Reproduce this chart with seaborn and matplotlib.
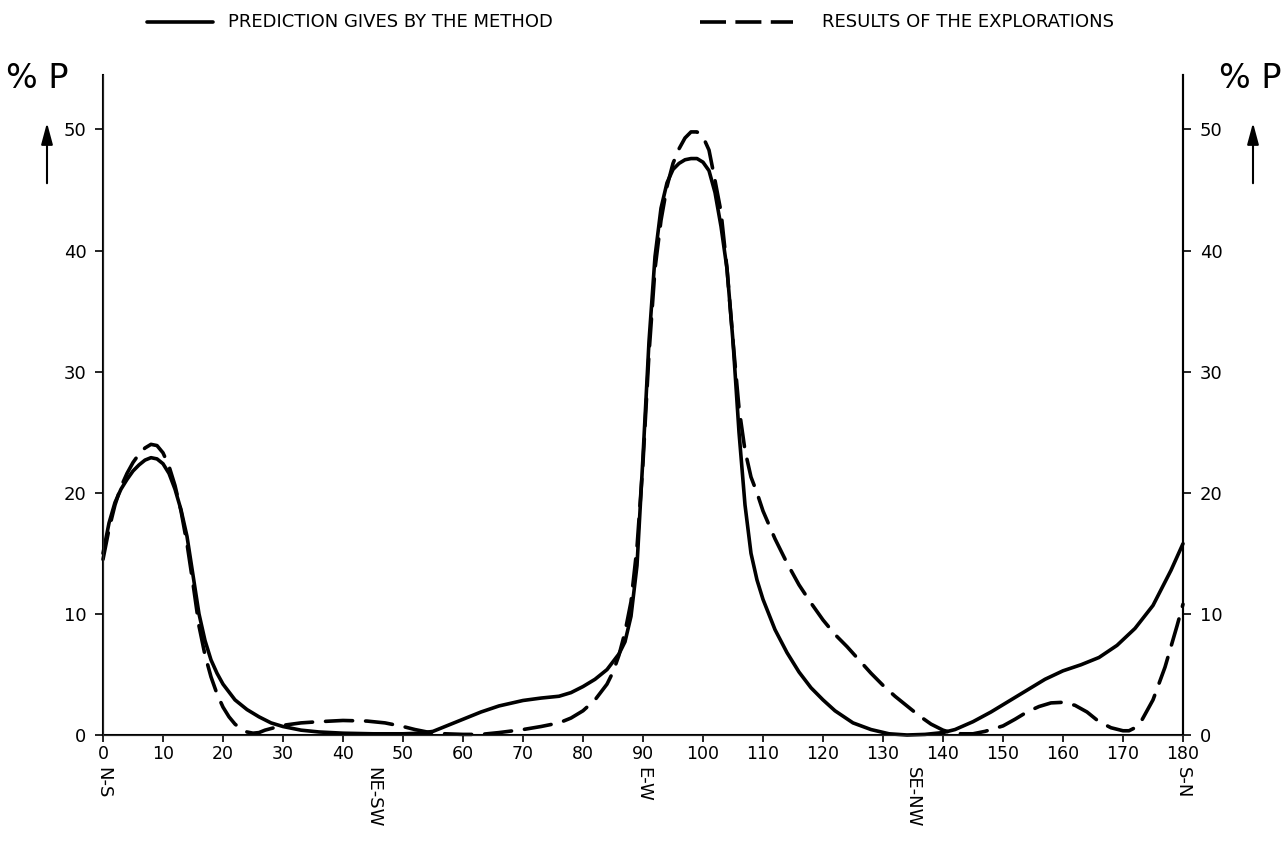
import matplotlib
matplotlib.use('Agg')
import matplotlib.pyplot as plt
import seaborn as sns
from matplotlib.lines import Line2D

# Prediction curve (solid) - angle in degrees vs % P
pred_angle = [0, 1, 2, 3, 4, 5, 6, 7, 8, 9, 10, 11, 12, 13, 14, 15, 16, 17, 18, 19, 20,
              22, 24, 26, 28, 30, 33, 36, 40, 45, 50, 53, 55, 57, 60, 63, 66, 70, 73, 76,
              78, 80, 82, 84, 86, 87, 88, 89, 90, 91, 92, 93, 94, 95, 96, 97, 98, 99, 100,
              101, 102, 103, 104, 105, 106, 107, 108, 109, 110, 112, 114, 116, 118, 120,
              122, 125, 128, 131, 134, 137, 140, 142, 145, 148, 151, 154, 157, 160, 163,
              166, 169, 172, 175, 178, 180]
pred_value = [15.0, 17.5, 19.2, 20.3, 21.1, 21.8, 22.3, 22.7, 22.9, 22.8, 22.4, 21.6, 20.3,
              18.6, 16.4, 13.2, 10.0, 7.8, 6.2, 5.1, 4.2,
              2.9, 2.1, 1.5, 1.0, 0.7, 0.4, 0.25, 0.15, 0.1, 0.1, 0.15, 0.3, 0.7, 1.3, 1.9,
              2.4, 2.85, 3.05, 3.2,
              3.5, 4.0, 4.6, 5.4, 6.7, 7.7, 9.8, 14.0, 23.0, 32.5, 39.5, 43.5, 45.6, 46.7,
              47.2, 47.5, 47.6, 47.6, 47.3,
              46.6, 44.8, 42.0, 38.5, 32.5, 25.0, 19.0, 15.0, 12.8, 11.2, 8.7, 6.8, 5.2,
              3.9, 2.9,
              2.0, 1.0, 0.45, 0.1, 0.0, 0.05, 0.2, 0.45, 1.1, 1.9, 2.8, 3.7, 4.6, 5.3, 5.8,
              6.4, 7.4, 8.8, 10.7, 13.6, 15.8]

# Exploration results (dashed)
expl_angle = [0, 1, 2, 3, 4, 5, 6, 7, 8, 9, 10, 11, 12, 13, 14, 15, 16, 17, 18, 19, 20, 21,
              22, 23, 24, 25, 26, 27, 30, 33, 36, 40, 44, 47, 50, 52, 54, 57, 60, 63, 66,
              70, 73, 76, 78, 80, 82, 84, 85, 86, 87, 88, 89, 90, 91, 92, 93, 94, 95, 96,
              97, 98, 99, 100, 101, 102, 103, 104, 105, 106, 107, 108, 109, 110, 112, 114,
              116, 118, 120, 122, 124, 126, 128, 130, 132, 134, 136, 138, 140, 141, 143,
              145, 147, 150, 152, 154, 156, 158, 160, 162, 164, 166, 168, 170, 171, 172,
              173, 175, 177, 178, 179, 180]
expl_value = [14.5, 17.0, 19.0, 20.5, 21.6, 22.5, 23.2, 23.7, 24.0, 23.9, 23.3, 22.2, 20.6,
              18.5, 15.8, 12.5, 9.0, 6.6, 4.8, 3.4, 2.3, 1.5,
              0.9, 0.5, 0.25, 0.15, 0.2, 0.4, 0.8, 1.0, 1.1, 1.2, 1.15, 1.0, 0.7, 0.45,
              0.25, 0.1, 0.05, 0.05, 0.2,
              0.45, 0.7, 1.0, 1.4, 2.0, 2.9, 4.2, 5.2, 6.6, 8.5, 11.0, 15.5, 22.5, 31.5,
              38.5, 42.5, 45.3, 47.2, 48.4,
              49.3, 49.8, 49.8, 49.4, 48.3, 45.8, 43.2, 38.5, 32.5, 27.0, 23.5, 21.3, 20.0,
              18.5, 16.2, 14.2,
              12.4, 10.9, 9.5, 8.3, 7.3, 6.2, 5.1, 4.1, 3.2, 2.4, 1.6, 0.9, 0.4, 0.25, 0.1,
              0.1, 0.3, 0.75, 1.3, 1.9, 2.35, 2.65, 2.7, 2.45, 1.9, 1.1, 0.6, 0.35, 0.35,
              0.6,
              1.1, 2.9, 5.6, 7.3, 9.0, 10.8]

x_ticks = list(range(0, 181, 10))
y_ticks = [0, 10, 20, 30, 40, 50]
directions = ['N-S', 'NE-SW', 'E-W', 'SE-NW', 'S-N']
direction_pos = [0, 45, 90, 135, 180]
legend_labels = ['PREDICTION GIVES BY THE METHOD', 'RESULTS OF THE EXPLORATIONS']

sns.set_style('ticks')
plt.rcParams['font.family'] = ['DejaVu Sans']
plt.rcParams['text.color'] = 'black'
plt.rcParams['xtick.color'] = 'black'
plt.rcParams['ytick.color'] = 'black'

W, H = 1285, 855
fig = plt.figure(figsize=(W / 100, H / 100), dpi=100)
ax = fig.add_axes([103 / W, 120 / H, 1080 / W, 660 / H])

dash = (0, (7.5, 3.6))
sns.lineplot(x=pred_angle, y=pred_value, ax=ax, color='black', linewidth=2.6,
             sort=False, estimator=None)
sns.lineplot(x=expl_angle, y=expl_value, ax=ax, color='black', linewidth=2.6,
             sort=False, estimator=None, linestyle=dash)
for ln in ax.lines:
    ln.set_clip_on(False)
    ln.set_solid_capstyle('round')
    ln.set_dash_capstyle('round')

ax.set_xlim(0, 180)
ax.set_ylim(0, 54.5)
ax.set_xticks(x_ticks)
ax.set_yticks(y_ticks)
ax.spines['top'].set_visible(False)
for s in ['left', 'right', 'bottom']:
    ax.spines[s].set_linewidth(1.5)
    ax.spines[s].set_color('black')
ax.tick_params(axis='x', direction='out', length=5, width=1.2, labelsize=12.5, pad=2,
               labelcolor='black')
ax.tick_params(axis='y', direction='out', length=6, width=1.2, labelsize=13, pad=6,
               labelcolor='black')
ax.set_xlabel('')
ax.set_ylabel('')

ax2 = ax.twinx()
ax2.set_ylim(0, 54.5)
ax2.set_yticks(y_ticks)
ax2.spines['top'].set_visible(False)
ax2.spines['right'].set_linewidth(1.5)
ax2.spines['right'].set_color('black')
ax2.tick_params(axis='y', direction='out', length=6, width=1.2, labelsize=13, pad=6,
                labelcolor='black')

# direction labels under the angle ticks
for lab, pos in zip(directions, direction_pos):
    ax.text(pos, -0.048, lab, transform=ax.get_xaxis_transform(), rotation=-90,
            ha='center', va='top', fontsize=13, color='black')

# % P axis captions with arrows
for xc in [37 / W, 1250 / W]:
    fig.text(xc, (H - 88) / H, '% P', ha='center', va='baseline', fontsize=24,
             color='black')
for xa in [47 / W, 1253 / W]:
    fig.add_artist(plt.Annotation('', xy=(xa, (H - 120) / H), xytext=(xa, (H - 186) / H),
                                  xycoords='figure fraction', textcoords='figure fraction',
                                  arrowprops=dict(arrowstyle='-|>,head_length=1.3,head_width=0.35',
                                                  color='black', lw=1.5)))

# legend drawn along the top
ly = (H - 22) / H
fig.add_artist(Line2D([147 / W, 213 / W], [ly, ly], color='black', linewidth=2.6,
                      transform=fig.transFigure))
fig.text(228 / W, ly, legend_labels[0], ha='left', va='center', fontsize=13)
fig.add_artist(Line2D([700 / W, 793 / W], [ly, ly], color='black', linewidth=2.6,
                      linestyle=(0, (7.2, 2.6)), transform=fig.transFigure))
fig.text(822 / W, ly, legend_labels[1], ha='left', va='center', fontsize=13)

fig.savefig('out.png', dpi=100)
